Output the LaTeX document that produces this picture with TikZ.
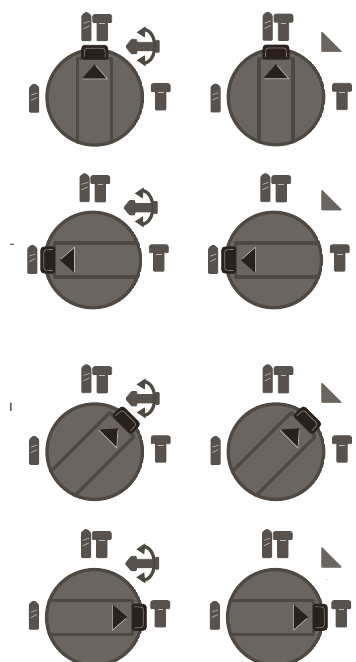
\documentclass[tikz,border=0pt]{standalone}
\usepackage{xcolor}
\usetikzlibrary{calc}
\definecolor{iconbrown}{HTML}{57524D}
\definecolor{rimbrown}{HTML}{4F4943}
\definecolor{facebrown}{HTML}{6A6560}
\definecolor{tabdark}{HTML}{2A211E}
\definecolor{glint}{HTML}{BDB8B1}
\tikzset{
  rim/.style={draw=rimbrown, fill=facebrown, line width=2.6pt},
  gripline/.style={draw=rimbrown, line width=2.5pt, line join=round},
  tabbody/.style={fill=tabdark, draw=tabdark, line width=0.6pt, rounded corners=2.2pt},
  tabedge/.style={draw=glint!70!black, line width=0.5pt, rounded corners=1.8pt},
  icon/.style={fill=iconbrown, draw=iconbrown, line width=0.6pt, rounded corners=0.6pt},
  shine/.style={draw=glint, line width=0.5pt}
}
% dial turned by #1
\newcommand{\knob}[1]{
  \begin{scope}
    \clip (0,0) circle (49.4);
    \draw[rim] (0,0) circle (47.8);
    \begin{scope}[rotate=#1]
      \draw[gripline] (-17,50) -- (-17,-38.5) -- (17,-38.5) -- (17,50);
    \end{scope}
  \end{scope}
  \begin{scope}[rotate=#1]
    \fill[tabbody, draw=tabdark] (-13.5,-38) -- (-12.8,-52) -- (12.8,-52) -- (13.5,-38) -- cycle;
    \draw[tabedge] (-10.6,-40) -- (-10.2,-49) -- (10.2,-49) -- (10.6,-40);
    \fill[tabdark] (0,-33) -- (-12.6,-18.6) -- (12.6,-18.6) -- cycle;
    \draw[shine] (-12.4,-18.3) -- (12.8,-18.3) -- (1,-31.8);
  \end{scope}
}
% screw, #1 = middle of head, #2 = top
\newcommand{\bolt}[2]{
  \fill[icon] (#1-5.2,#2+7) -- (#1-5.2,#2+27) -- (#1+5.2,#2+27) -- (#1+5.2,#2+7) -- cycle;
  \fill[icon] (#1-9.5,#2+8.6) -- (#1-9.5,#2+2) -- (#1-8,#2+0.6) -- (#1+8,#2+0.6) -- (#1+9.5,#2+2) -- (#1+9.5,#2+8.6) -- cycle;
  \draw[shine] (#1-2.8,#2+9.8) -- (#1+2.8,#2+9.8);
}
% pin with pointed top, #1 = middle, #2 = top
\newcommand{\pin}[2]{
  \fill[icon] (#1-1.2,#2+0.3) -- (#1+1.2,#2+0.3) -- (#1+4.6,#2+3.4) -- (#1+4.6,#2+28.3) -- (#1-4.6,#2+28.3) -- (#1-4.6,#2+3.4) -- cycle;
  \draw[shine] (#1-3,#2+11) -- (#1+3,#2+9);
  \draw[shine] (#1-3,#2+16.5) -- (#1+3,#2+13.5);
}
% arrow and turning ring
\newcommand{\turnmark}{
  \fill[icon] (31,-50.6) -- (37,-58) -- (42,-58) -- (42,-55) -- (61,-55) -- (61,-57) -- (64.5,-57) -- (64.5,-45) -- (61,-45) -- (61,-46.5) -- (42,-46.5) -- (42,-43.5) -- (37,-43.5) -- cycle;
  \draw[rimbrown, line width=2.4pt] (48,-68) .. controls (64,-68) and (64,-34) .. (48,-34);
  \fill[rimbrown] (42,-65) -- (51,-71) -- (50,-60) -- cycle;
  \fill[rimbrown] (42,-37) -- (51,-31) -- (50,-42) -- cycle;
}
\newcommand{\icons}{
  \bolt{7.5}{-83.5}
  \pin{-8.3}{-85}
  \bolt{66}{-14.3}
  \pin{-60.5}{-13.3}
}
\begin{document}
\begin{tikzpicture}[x=0.75pt, y=-0.75pt]
  \useasboundingbox (0,0) rectangle (355,662);
  % left column, with the turning arrow
  \foreach \cx/\cy/\turn/\lift in {94.7/97.3/0/0, 92.8/260/90/-1.6, 94.7/451.7/-45/-2.3, 94.3/617.3/-90/-3}{
    \begin{scope}[shift={(\cx,\cy)}]
      \knob{\turn}
      \begin{scope}[shift={(0,\lift)}]
        \icons
        \turnmark
      \end{scope}
    \end{scope}
  }
  % right column, with the wedge
  \foreach \cx/\cy/\turn/\lift/\wy in {276/97/0/0/31.7, 273.7/260/90/-1.6/190, 276/451.7/-45/-2.3/382.7, 275.3/617.3/-90/-3/547.3}{
    \begin{scope}[shift={(\cx,\cy)}]
      \knob{\turn}
      \begin{scope}[shift={(0,\lift)}]
        \icons
      \end{scope}
    \end{scope}
    \fill[facebrown, draw=facebrown, line width=0.4pt, rounded corners=0.5pt] (321.7,\wy) -- (321.7,\wy+20) -- (341.7,\wy+20) -- cycle;
  }
  % leftovers at the margins
  \node[font=\small\bfseries, inner sep=0pt, text=iconbrown] (dashmark) at (12.5,246) {-};
  \node[font=\small\bfseries\sffamily, inner sep=0pt, text=iconbrown] (barmark) at (11,407.5) {l};
  \node[font=\tiny, inner sep=0pt, text=glint] (greymark) at (327,581) {-};
\end{tikzpicture}
\end{document}
